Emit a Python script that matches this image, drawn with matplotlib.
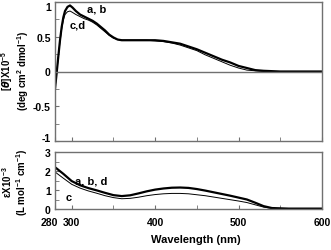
import numpy as np
import matplotlib
matplotlib.use("Agg")
import matplotlib.pyplot as plt
import matplotlib.transforms as mtransforms
from matplotlib.ticker import MultipleLocator, FixedLocator

plt.rcParams['font.family'] = ['Liberation Sans', 'DejaVu Sans']
plt.rcParams['font.weight'] = 'bold'
plt.rcParams['mathtext.default'] = 'regular'

# CD spectra, [theta] x 10^-5
cd_wl = [280, 282, 284, 286, 288, 290, 292, 295, 298, 301, 305, 310, 315, 320, 325, 330,
         335, 340, 345, 350, 355, 360, 370, 380, 390, 400, 410, 420, 430, 440, 450,
         460, 470, 480, 490, 500, 510, 520, 530, 550, 575, 600]
cd_ab = [-0.25, -0.02, 0.22, 0.45, 0.64, 0.78, 0.87, 0.93, 0.95, 0.92, 0.87, 0.82, 0.79, 0.76, 0.73, 0.69,
         0.64, 0.59, 0.53, 0.49, 0.46, 0.45, 0.45, 0.45, 0.45, 0.45, 0.44, 0.42, 0.40, 0.36, 0.32,
         0.27, 0.22, 0.17, 0.13, 0.08, 0.05, 0.02, 0.01, 0.0, 0.0, 0.0]
cd_cd = [-0.25, -0.02, 0.21, 0.43, 0.61, 0.74, 0.82, 0.86, 0.87, 0.85, 0.82, 0.79, 0.76, 0.74, 0.71, 0.67,
         0.62, 0.57, 0.52, 0.48, 0.46, 0.45, 0.45, 0.45, 0.45, 0.44, 0.43, 0.41, 0.38, 0.34, 0.30,
         0.24, 0.19, 0.14, 0.09, 0.05, 0.02, 0.01, 0.0, 0.0, 0.0, 0.0]

# absorption spectra, epsilon x 10^-3
ab_wl = [280, 290, 300, 310, 320, 330, 340, 350, 360, 370, 380, 390, 400, 410, 420, 430, 440,
         450, 460, 470, 480, 490, 500, 510, 520, 530, 540, 560, 600]
ab_abd = [2.2, 1.85, 1.47, 1.25, 1.1, 0.98, 0.85, 0.73, 0.68, 0.72, 0.82, 0.93, 1.02, 1.08, 1.12, 1.13, 1.11,
          1.05, 0.97, 0.88, 0.79, 0.7, 0.6, 0.5, 0.33, 0.15, 0.05, 0.02, 0.02]
ab_c = [1.95, 1.62, 1.3, 1.1, 0.95, 0.83, 0.7, 0.6, 0.54, 0.56, 0.62, 0.7, 0.76, 0.8, 0.82, 0.82, 0.8,
        0.75, 0.7, 0.63, 0.56, 0.49, 0.42, 0.34, 0.22, 0.1, 0.03, 0.01, 0.01]

W, H = 331, 251
TICK_FS = 7.5
fig = plt.figure(figsize=(W / 100, H / 100), dpi=100)
ax1 = fig.add_axes([55 / W, (H - 142) / H, 267 / W, 139 / H])
ax2 = fig.add_axes([55 / W, (H - 210) / H, 267 / W, 57 / H])

spine_col = '#707070'
for ax in (ax1, ax2):
    for s in ax.spines.values():
        s.set_color(spine_col)
        s.set_linewidth(1.0)
    ax.set_xlim(280, 600)
    ax.xaxis.set_major_locator(FixedLocator([280, 300, 400, 500, 600]))
    ax.xaxis.set_minor_locator(FixedLocator([350, 450, 550]))
    ax.tick_params(which='both', direction='in', color=spine_col, labelsize=TICK_FS, pad=3)
    ax.tick_params(which='both', length=3)

ax1.plot(cd_wl, cd_ab, color='black', lw=1.6)
ax1.plot(cd_wl, cd_cd, color='black', lw=0.7)
ax1.axhline(0, color=spine_col, lw=1.0)
ax1.set_ylim(-1, 1)
ax1.yaxis.set_major_locator(FixedLocator([-1, -0.5, 0, 0.5, 1]))
ax1.yaxis.set_minor_locator(MultipleLocator(0.25))
ax1.set_yticklabels(['-1', '-0.5', '0', '0.5', '1'])
ax1.tick_params(axis='x', labelbottom=False)
ax1.text(318, 0.86, 'a, b', fontsize=8, fontweight='bold')
ax1.text(297, 0.64, 'c,d', fontsize=8, fontweight='bold')

# nudge the end labels of the top panel inward like the reference
ylabs = ax1.get_yticklabels()
ylabs[0].set_transform(ylabs[0].get_transform() +
                       mtransforms.ScaledTranslation(0, 4 / 100, fig.dpi_scale_trans))
ylabs[-1].set_transform(ylabs[-1].get_transform() +
                        mtransforms.ScaledTranslation(0, -4 / 100, fig.dpi_scale_trans))

ax2.plot(ab_wl, ab_abd, color='black', lw=1.6)
ax2.plot(ab_wl, ab_c, color='black', lw=0.7)
ax2.set_ylim(0, 3)
ax2.yaxis.set_major_locator(MultipleLocator(1))
ax2.yaxis.set_minor_locator(MultipleLocator(0.5))
ax2.tick_params(axis='x', pad=6)
ax2.text(304, 1.35, 'a, b, d', fontsize=8, fontweight='bold')
ax2.text(293, 0.45, 'c', fontsize=8, fontweight='bold')

xlabs = ax2.get_xticklabels()
xlabs[0].set_transform(xlabs[0].get_transform() +
                       mtransforms.ScaledTranslation(-6 / 100, 0, fig.dpi_scale_trans))

fig.text(196 / W, 1 - 240 / H, 'Wavelength (nm)', ha='center', va='center',
         fontsize=8, fontweight='bold')
fig.text(15 / W, 1 - 71 / H, '[$\\it{\\theta}$]X10$^{-5}$\n(deg cm$^{2}$ dmol$^{-1}$)',
         rotation=90, ha='center', va='center', fontsize=7, fontweight='bold',
         multialignment='center', linespacing=1.05)
fig.text(15 / W, 1 - 182 / H, '$\\epsilon$X10$^{-3}$\n(L mol$^{-1}$ cm$^{-1}$)',
         rotation=90, ha='center', va='center', fontsize=7, fontweight='bold',
         multialignment='center', linespacing=1.05)

fig.savefig('out.png', dpi=100)
